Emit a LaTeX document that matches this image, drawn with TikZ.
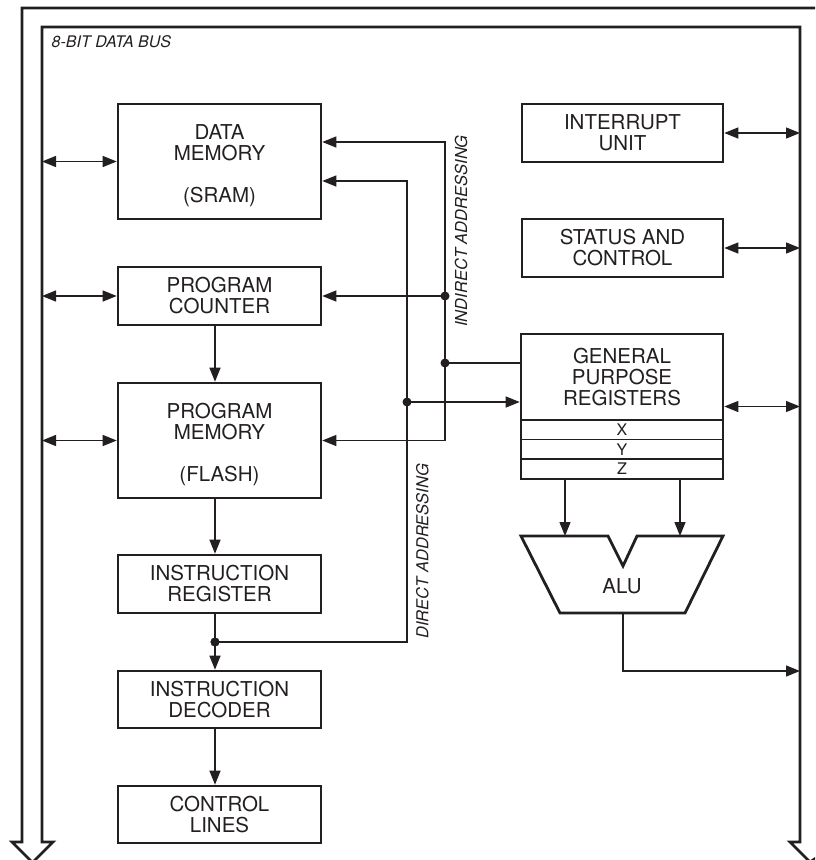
\documentclass[tikz,border=0pt]{standalone}
\usepackage{fontspec}
\setmainfont{TeX Gyre Heros}
\usetikzlibrary{arrows.meta,calc}
\definecolor{ink}{HTML}{231F20}
\begin{document}
\begin{tikzpicture}[x=1pt,y=-1pt,
  >={Triangle[length=14pt,width=11pt]},
  box/.style={draw=ink,line width=2.6pt,minimum width=203pt,inner sep=0pt,
    font=\fontsize{20.5}{21}\selectfont,align=center,text=ink},
  boxtext/.style={inner sep=0pt,font=\fontsize{20.5}{21}\selectfont,align=center,text=ink},
  rowtext/.style={inner sep=0pt,font=\fontsize{16}{17}\selectfont,text=ink},
  lbl/.style={inner sep=0pt,font=\fontsize{16.5}{17}\selectfont\itshape,text=ink},
  conn/.style={draw=ink,line width=1.3pt},
  dot/.style={circle,fill=ink,inner sep=0pt,minimum size=9pt},
  thick line/.style={draw=ink,line width=2.8pt,line join=miter}]
\useasboundingbox (0,0) rectangle (815,860);
\clip (0,0) rectangle (815,860);

% data bus
\draw[thick line] (42,842) -- (53,842) -- (32.5,862.5) -- (12,842) -- (22,842) -- (22,8)
  -- (830,8) -- (830,842) -- (840,842) -- (810,862) -- (790,842) -- (800,842)
  -- (800,27) -- (42,27) -- cycle;
\node[lbl,anchor=base west,font=\fontsize{16}{17}\selectfont\itshape] (bus) at (51.5,47.5) {8-BIT DATA BUS};
\coordinate (busL) at (42,0);
\coordinate (busR) at (800,0);

% left column
\node[box,minimum height=115pt] (dm) at (219.5,161.5) {};
\node[boxtext] (dmt) at (219.5,166) {DATA\\MEMORY\\[21pt](SRAM)};
\node[box,minimum height=58pt] (pc) at (219.5,296) {PROGRAM\\COUNTER};
\node[box,minimum height=115pt] (pm) at (219.5,440.5) {};
\node[boxtext] (pmt) at (219.5,444.5) {PROGRAM\\MEMORY\\[21pt](FLASH)};
\node[box,minimum height=58pt] (ir) at (219.5,584) {INSTRUCTION\\REGISTER};
\node[box,minimum height=57pt] (id) at (219.5,699.5) {INSTRUCTION\\DECODER};
\node[box,minimum height=57pt] (cl) at (219.5,814.5) {CONTROL\\LINES};

% right column
\node[box,minimum width=201pt,minimum height=58pt] (iu) at (622.5,133) {INTERRUPT\\UNIT};
\node[box,minimum width=201pt,minimum height=58pt] (sc) at (622.5,248) {STATUS AND\\CONTROL};
\node[box,minimum width=202pt,minimum height=145pt] (gpr) at (622,406.5) {};
\node[boxtext] (gprt) at (622,377) {GENERAL\\PURPOSE\\REGISTERS};
\draw[ink,line width=1.5pt] (gpr.west |- 0,420) -- (gpr.east |- 0,420);
\draw[ink,line width=1.5pt] (gpr.west |- 0,439.5) -- (gpr.east |- 0,439.5);
\draw[ink,line width=1.5pt] (gpr.west |- 0,459) -- (gpr.east |- 0,459);
\node[rowtext] (rx) at (622,430) {X};
\node[rowtext] (ry) at (622,449.5) {Y};
\node[rowtext] (rz) at (622,469) {Z};

% ALU
\draw[thick line] (521,536) -- (608,536) -- (623,566) -- (637,536) -- (723,536)
  -- (685,613) -- (560,613) -- cycle;
\node[boxtext] (alu) at (622,586) {ALU};
\coordinate (aluL) at (565,536);
\coordinate (aluR) at (680,536);
\coordinate (aluB) at (623,613);
\coordinate (aluO) at (623,671);

% bus connections
\draw[conn,<->] (dm.west -| busL) -- (dm.west);
\draw[conn,<->] (pc.west -| busL) -- (pc.west);
\draw[conn,<->] (pm.west -| busL) -- (pm.west);
\draw[conn,<->] (iu.east) -- (iu.east -| busR);
\draw[conn,<->] (sc.east) -- (sc.east -| busR);
\draw[conn,<->] (gpr.east) -- (gpr.east -| busR);

% program flow
\coordinate (ax) at (215,0);
\node[dot] (dIR) at (215,642) {};
\draw[conn,->] (pc.south -| ax) -- (pm.north -| ax);
\draw[conn,->] (pm.south -| ax) -- (ir.north -| ax);
\draw[conn] (ir.south -| ax) -- (dIR.center);
\draw[conn,->] (dIR.center) -- (id.north -| ax);
\draw[conn,->] (id.south -| ax) -- (cl.north -| ax);

% addressing
\coordinate (ind) at (445,0);
\coordinate (dir) at (407,0);
\coordinate (yA) at (0,142);
\coordinate (yB) at (0,181);
\coordinate (yC) at (0,363);
\coordinate (yD) at (0,402);
\draw[conn,<->] (dm.east |- yA) -- (ind |- yA) -- (ind |- pm.east) -- (pm.east);
\node[dot] (dPC) at (ind |- pc.east) {};
\draw[conn,->] (dPC.center) -- (pc.east);
\node[dot] (dG1) at (ind |- yC) {};
\draw[conn] (dG1.center) -- (gpr.west |- yC);
\draw[conn,->] (dIR.center) -- (dir |- dIR) -- (dir |- yB) -- (dm.east |- yB);
\node[dot] (dG2) at (dir |- yD) {};
\draw[conn,->] (dG2.center) -- (gpr.west |- yD);
\node[dot] at (dIR) {};

\node[lbl,rotate=90,anchor=base west] (indl) at (467,327) {INDIRECT ADDRESSING};
\node[lbl,rotate=90,anchor=base west] (dirl) at (428.3,639) {DIRECT ADDRESSING};

% ALU connections
\draw[conn,->] (gpr.south -| aluL) -- (aluL);
\draw[conn,->] (gpr.south -| aluR) -- (aluR);
\draw[conn,->] (aluB) -- (aluO) -- (aluO -| busR);
\end{tikzpicture}
\end{document}
